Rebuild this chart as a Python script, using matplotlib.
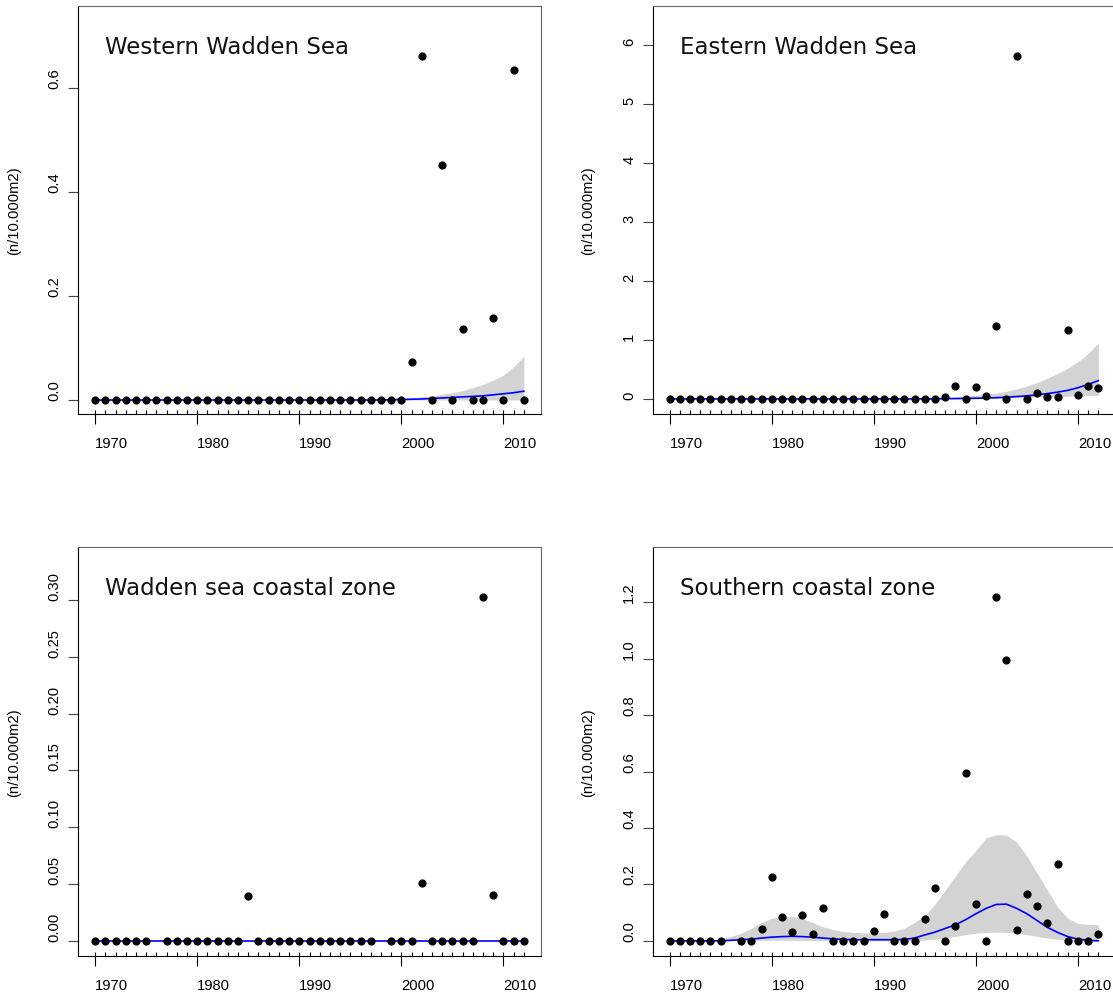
import matplotlib
matplotlib.use("Agg")
import matplotlib.pyplot as plt
import matplotlib.transforms as mtransforms
import numpy as np

NA = np.nan
years = list(range(1970, 2013))
major_years = [1970, 1980, 1990, 2000, 2010]

titles = ["Western Wadden Sea", "Eastern Wadden Sea",
          "Wadden sea coastal zone", "Southern coastal zone"]
ylabel = "(n/10.000m2)"

# ---------------- Western Wadden Sea ----------------
west_obs = [0] * 31 + [0.074, 0.662, 0, 0.451, 0, 0.136, 0, 0, 0.158, 0, 0.634, 0]
west_fit = [0] * 29 + [0.0005, 0.001, 0.0015, 0.002, 0.003, 0.004, 0.005, 0.006,
                       0.007, 0.008, 0.010, 0.012, 0.014, 0.017]
west_upr = [0] * 26 + [0.0005, 0.001, 0.0015, 0.002, 0.003, 0.004, 0.006, 0.008,
                       0.011, 0.014, 0.018, 0.024, 0.030, 0.038, 0.048, 0.064, 0.084]
west_lwr = [0] * 43
west_yticks = [0.0, 0.2, 0.4, 0.6]
west_ylim = (-0.0269, 0.7577)

# ---------------- Eastern Wadden Sea ----------------
east_obs = [0] * 27 + [0.04, 0.22, 0, 0.20, 0.05, 1.23, 0, 5.82, 0, 0.097,
                       0.03, 0.03, 1.16, 0.07, 0.22, 0.18]
east_fit = [0] * 26 + [0.002, 0.004, 0.006, 0.008, 0.011, 0.015, 0.02, 0.03, 0.04,
                       0.052, 0.068, 0.09, 0.115, 0.145, 0.19, 0.245, 0.31]
east_upr = [0] * 26 + [0.01, 0.02, 0.03, 0.045, 0.06, 0.08, 0.10, 0.13, 0.17,
                       0.22, 0.28, 0.35, 0.43, 0.52, 0.63, 0.77, 0.95]
east_lwr = [0] * 26 + [0.0, 0.001, 0.002, 0.003, 0.005, 0.008, 0.011, 0.015, 0.02,
                       0.025, 0.03, 0.035, 0.04, 0.045, 0.05, 0.053, 0.056]
east_yticks = [0, 1, 2, 3, 4, 5, 6]
east_ylim = (-0.256, 6.66)

# ---------------- Wadden sea coastal zone ----------------
wcz_obs = [0, 0, 0, 0, 0, 0, NA, 0, 0, 0, 0, 0, 0, 0, 0, 0.0396,
           0, 0, 0, 0, 0, 0, 0, 0, 0, 0, 0, 0, NA, 0, 0, 0, 0.051,
           0, 0, 0, 0, 0, 0.303, 0.0407, 0, 0, 0]
wcz_fit = [0] * 43
wcz_upr = [0] * 43
wcz_lwr = [0] * 43
wcz_yticks = [0.00, 0.05, 0.10, 0.15, 0.20, 0.25, 0.30]
wcz_ylim = (-0.0133, 0.3467)

# ---------------- Southern coastal zone ----------------
scz_obs = [0, 0, 0, 0, 0, 0, NA, 0, 0, 0.043, 0.228, 0.083, 0.031, 0.092, 0.026,
           0.116, 0, 0, 0, 0, 0.035, 0.095, 0, 0, 0, 0.078, 0.188, 0, 0.054,
           0.596, 0.131, 0, 1.22, 0.997, 0.04, 0.167, 0.124, 0.065, 0.274,
           0, 0, 0, 0.024]
scz_fit = [0, 0, 0, 0, 0, 0, 0.002, 0.004, 0.006, 0.010, 0.013, 0.015, 0.016,
           0.015, 0.013, 0.010, 0.007, 0.005, 0.004, 0.004, 0.004, 0.004, 0.004,
           0.005, 0.010, 0.021, 0.031, 0.044, 0.057, 0.075, 0.096, 0.115, 0.129,
           0.130, 0.115, 0.096, 0.072, 0.048, 0.030, 0.015, 0.006, 0.002, 0.0]
scz_upr = [0, 0, 0, 0, 0.002, 0.008, 0.016, 0.027, 0.045, 0.065, 0.080, 0.087,
           0.087, 0.080, 0.065, 0.050, 0.040, 0.033, 0.030, 0.028, 0.028, 0.030,
           0.035, 0.045, 0.065, 0.090, 0.130, 0.180, 0.230, 0.280, 0.320, 0.365,
           0.376, 0.375, 0.350, 0.300, 0.240, 0.180, 0.120, 0.080, 0.062, 0.058,
           0.057]
scz_lwr = [0, 0, 0, 0, 0, 0, 0, 0, 0.001, 0.002, 0.002, 0.002, 0.002, 0.002,
           0.001, 0.001, 0, 0, 0, 0, 0, 0, 0, 0, 0.001, 0.003, 0.006, 0.010,
           0.016, 0.022, 0.027, 0.030, 0.031, 0.030, 0.027, 0.022, 0.016, 0.010,
           0.005, 0.002, 0.001, 0, 0]
scz_yticks = [0.0, 0.2, 0.4, 0.6, 0.8, 1.0, 1.2]
scz_ylim = (-0.0537, 1.3957)

panels = [
    (west_obs, west_fit, west_lwr, west_upr, west_yticks, west_ylim, "{:.1f}"),
    (east_obs, east_fit, east_lwr, east_upr, east_yticks, east_ylim, "{:d}"),
    (wcz_obs, wcz_fit, wcz_lwr, wcz_upr, wcz_yticks, wcz_ylim, "{:.2f}"),
    (scz_obs, scz_fit, scz_lwr, scz_upr, scz_yticks, scz_ylim, "{:.1f}"),
]

W, H = 1113, 995
fig = plt.figure(figsize=(W / 100, H / 100), dpi=100)

# axes boxes in pixels: (left, top, width, height)
boxes = [(78, 7, 463, 408), (652.5, 7, 464, 408),
         (78, 548, 463, 409), (652.5, 548, 464, 409)]

tick_font = "Liberation Sans"
for i, (box, (obs, fit, lwr, upr, yt, yl, fmt)) in enumerate(zip(boxes, panels)):
    l, t, w, h = box
    ax = fig.add_axes([l / W, (H - t - h) / H, w / W, h / H])
    ax.fill_between(years, lwr, upr, color="#D3D3D3", linewidth=0, zorder=1)
    ax.plot(years, fit, color="blue", lw=1.2, zorder=2)
    ax.plot(years, obs, "o", color="black", markersize=4.9, zorder=3, clip_on=False)
    ax.set_xlim(1968.32, 1968.32 + (2013.68 - 1968.32) * w / 463)
    ax.set_ylim(*yl)

    ax.set_xticks(major_years)
    ax.set_xticks(years, minor=True)
    ax.xaxis.remove_overlapping_locs = False
    ax.set_xticklabels([str(y) for y in major_years], fontfamily=tick_font,
                       fontsize=10.6, ha="left")
    ax.tick_params(axis="x", which="major", direction="out", length=7.2,
                   width=0.8, pad=8.5, color="black")
    ax.tick_params(axis="x", which="minor", direction="in", length=3.2,
                   width=0.8, color="black")

    ax.set_yticks(yt)
    ax.set_yticklabels([fmt.format(v) for v in yt], fontfamily=tick_font,
                       fontsize=10.6, rotation=90, va="bottom", ha="right")
    ax.tick_params(axis="y", which="major", direction="out", length=7.2,
                   width=0.8, pad=4.5, color="#444444")

    for s in ("left", "bottom"):
        ax.spines[s].set_color("black")
        ax.spines[s].set_linewidth(0.8)
    for s in ("top", "right"):
        ax.spines[s].set_color("#666666")
        ax.spines[s].set_linewidth(0.8)

    trans = mtransforms.blended_transform_factory(ax.transData, ax.transAxes)
    ax.text(1971, 1 - 47 / h, titles[i], transform=trans, ha="left",
            va="baseline", fontsize=16.5, fontfamily="DejaVu Sans", color="#111111")

    fig.text((l - 64) / W, (H - t - h / 2) / H, ylabel, rotation=90,
             ha="center", va="center", fontsize=10.6, fontfamily=tick_font)

fig.savefig("out.png", dpi=100)
